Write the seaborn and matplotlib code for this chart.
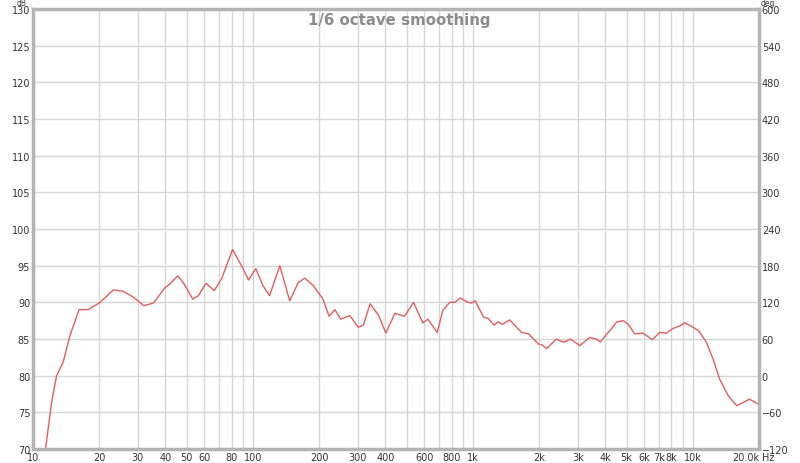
import numpy as np
import pandas as pd
import matplotlib
matplotlib.use("Agg")
import matplotlib.pyplot as plt
from matplotlib.ticker import FixedLocator, NullFormatter
import seaborn as sns

# frequency response (Hz, dB)
freq = [11.4, 12.16, 12.8, 13.7, 14.7, 16.2, 17.8, 20.2, 23.2, 25.7, 28.6, 31.9, 35.3,
        39.8, 41.9, 45.5, 48.2, 53.2, 56.5, 61.2, 66.7, 72.0, 80.8, 88.7, 95.5, 103,
        111, 119, 132.5, 147, 160.6, 172, 188, 208, 222, 236, 251, 276, 301, 318, 341,
        373, 402, 442, 489, 537, 592, 625, 688, 730, 785, 827, 877, 934, 983, 1025,
        1116, 1176, 1247, 1303, 1359, 1472, 1580, 1667, 1790, 1990, 2060, 2170, 2395,
        2590, 2780, 3065, 3390, 3640, 3795, 4070, 4280, 4500, 4815, 5075, 5440, 5935,
        6550, 7080, 7590, 8140, 8760, 9160, 9920, 10650, 11530, 12350, 13240, 14470,
        15820, 16960, 18080, 19900]
spl = [70.0, 76.4, 80.0, 81.8, 85.4, 89.0, 89.0, 90.0, 91.7, 91.5, 90.7, 89.55, 89.9,
       92.0, 92.5, 93.6, 92.7, 90.45, 90.9, 92.6, 91.6, 93.2, 97.2, 95.0, 93.05, 94.6,
       92.3, 90.9, 95.0, 90.2, 92.7, 93.3, 92.3, 90.45, 88.1, 89.0, 87.7, 88.2, 86.6,
       86.9, 89.8, 88.2, 85.8, 88.5, 88.1, 90.0, 87.2, 87.7, 85.9, 88.9, 90.0, 90.0,
       90.6, 90.1, 89.9, 90.2, 88.0, 87.8, 86.9, 87.35, 87.0, 87.6, 86.6, 85.9, 85.7,
       84.3, 84.2, 83.7, 85.0, 84.55, 85.0, 84.1, 85.2, 85.0, 84.6, 85.7, 86.45, 87.3,
       87.5, 87.05, 85.7, 85.8, 84.9, 85.9, 85.8, 86.45, 86.8, 87.2, 86.7, 86.1, 84.55,
       82.3, 79.55, 77.3, 75.9, 76.35, 76.8, 76.1]

x_ticks = [10, 20, 30, 40, 50, 60, 80, 100, 200, 300, 400, 600, 800, 1000,
           2000, 3000, 4000, 5000, 6000, 7000, 8000, 10000, 20000]
x_labels = ["10", "20", "30", "40", "50", "60", "80", "100", "200", "300", "400",
            "600", "800", "1k", "2k", "3k", "4k", "5k", "6k", "7k", "8k", "10k", "20.0k"]
x_grid_extra = [70, 90, 500, 700, 900, 9000]
db_ticks = list(range(70, 131, 5))
deg_ticks = list(range(-120, 601, 60))

df = pd.DataFrame({"freq": freq, "spl": spl})

sns.set_theme(style="white")
plt.rcParams["font.family"] = ["DejaVu Sans"]

fig = plt.figure(figsize=(8, 4.64), dpi=100)
ax = fig.add_axes([33 / 800, 1 - 450 / 464, (759 - 33) / 800, 440 / 464])

sns.lineplot(data=df, x="freq", y="spl", ax=ax, color="#e85c5f", linewidth=1.0)

ax.set_xscale("log")
ax.set_xlim(10, 20000)
ax.set_ylim(70, 130)
ax.xaxis.set_major_locator(FixedLocator(x_ticks))
ax.set_xticklabels(x_labels)
ax.xaxis.set_minor_locator(FixedLocator(x_grid_extra))
ax.xaxis.set_minor_formatter(NullFormatter())
ax.set_yticks(db_ticks)
ax.set_xlabel("")
ax.set_ylabel("")

grid_col = "#d6d6d6"
for f in x_ticks[:-1] + x_grid_extra:
    ax.axvline(f, color=grid_col, linewidth=1.0, zorder=0)
for d in db_ticks:
    ax.axhline(d, color=grid_col, linewidth=1.0, zorder=0)

ax.tick_params(axis="both", which="both", length=0, labelsize=7, colors="#333333", pad=2)
ax.get_xticklabels()[-1].set_ha("right")

for s in ax.spines.values():
    s.set_color("#b4b4b4")
    s.set_linewidth(2.5)

ax2 = ax.twinx()
ax2.set_ylim(-120, 600)
ax2.set_yticks(deg_ticks)
ax2.tick_params(axis="y", length=0, labelsize=7, colors="#333333", pad=2)
for s in ax2.spines.values():
    s.set_visible(False)

fig.text(22 / 800, 1 - 4 / 464, "dB", fontsize=5.5, color="#333333", ha="center", va="center")
fig.text(768 / 800, 1 - 4 / 464, "deg", fontsize=5.5, color="#333333", ha="center", va="center")
fig.text(762 / 800, 1 - 458 / 464, "Hz", fontsize=7, color="#333333", ha="left", va="center")

ax.text(0.504, 0.993, "1/6 octave smoothing", transform=ax.transAxes, ha="center", va="top",
        fontsize=10.8, fontweight="bold", color="#8c8c8c")

fig.savefig("out.png", dpi=100)
